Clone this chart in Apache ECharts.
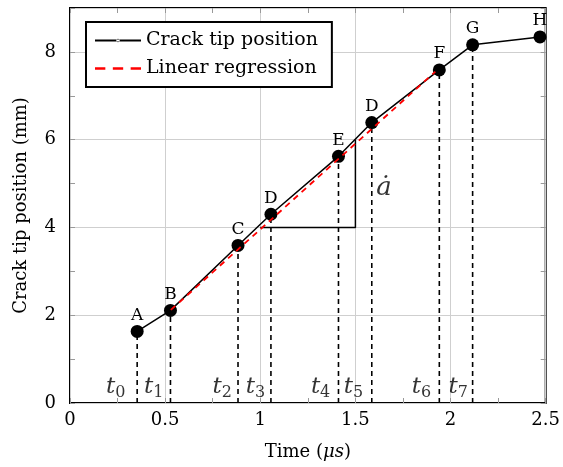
<!DOCTYPE html>
<html>
<head>
<meta charset="utf-8">
<script src="https://cdn.jsdelivr.net/npm/echarts@6/dist/echarts.min.js"></script>
<style>html,body{margin:0;padding:0;background:#fff}#c{width:563px;height:467px}</style>
</head>
<body>
<div id="c"></div>
<script>
// ---- data ----
const pointLabels = ['A','B','C','D','E','D','F','G','H'];
const timeUs = [0.353, 0.528, 0.883, 1.056, 1.411, 1.586, 1.941, 2.116, 2.470];
const crackMm = [1.63, 2.11, 3.59, 4.30, 5.62, 6.39, 7.59, 8.16, 8.34];
const regressionTime = [0.53, 1.92];
const regressionMm = [2.12, 7.55];
const slopeTime = [1.0, 1.5, 1.5];
const slopeMm = [4, 4, 6];
const tLabelNames = ['0','1','2','3','4','5','6','7'];
const tLabelTime = [0.24, 0.44, 0.80, 0.975, 1.317, 1.49, 1.847, 2.04];
const tLabelMm = [0.37, 0.37, 0.37, 0.37, 0.37, 0.37, 0.37, 0.37];
const rateLabelTime = [1.65];
const rateLabelMm = [4.9];
const xRange = [0, 2.5];
const yRange = [0, 9];
const xMajorStep = 0.5, xMinorStep = 0.25;
const yMajorStep = 2, yMinorStep = 1;

const FONT = 'DejaVu Serif';
const chart = echarts.init(document.getElementById('c'), null, {renderer: 'canvas'});

const series = [];
// vertical dashed drop lines
for (let i = 0; i < 8; i++) {
  series.push({
    type: 'line', silent: true, symbol: 'none', z: 2,
    data: [[timeUs[i], 0], [timeUs[i], crackMm[i]]],
    lineStyle: {color: '#000', width: 1.6, type: [5, 4]}
  });
}
// slope triangle
series.push({
  type: 'line', silent: true, symbol: 'none', z: 3,
  data: slopeTime.map((t, i) => [t, slopeMm[i]]),
  lineStyle: {color: '#000', width: 1.5}
});
// crack tip
series.push({
  name: 'Crack tip position', type: 'line', z: 5,
  data: timeUs.map((t, i) => [t, crackMm[i]]),
  symbol: 'circle', symbolSize: 13,
  itemStyle: {color: '#000'},
  lineStyle: {color: '#000', width: 1.5},
  label: {
    show: true, position: 'top', distance: 1,
    formatter: p => pointLabels[p.dataIndex],
    fontFamily: FONT, fontSize: 17, color: '#000'
  }
});
// regression
series.push({
  name: 'Linear regression', type: 'line', z: 6, symbol: 'none',
  data: regressionTime.map((t, i) => [t, regressionMm[i]]),
  itemStyle: {color: '#ff0000'},
  lineStyle: {color: '#ff0000', width: 1.8, type: [6, 5]}
});
// t labels
series.push({
  type: 'scatter', silent: true, symbolSize: 0, z: 7,
  data: tLabelTime.map((t, i) => [t, tLabelMm[i], tLabelNames[i]]),
  label: {
    show: true, position: 'inside',
    formatter: p => '{t|t}{s|' + p.data[2] + '}',
    rich: {
      t: {fontFamily: FONT, fontStyle: 'italic', fontSize: 23, color: '#000'},
      s: {fontFamily: FONT, fontSize: 16, color: '#000', padding: [12, 0, 0, 0]}
    }
  }
});
// rate label
series.push({
  type: 'scatter', silent: true, symbolSize: 0, z: 7,
  data: rateLabelTime.map((t, i) => [t, rateLabelMm[i]]),
  label: {show: true, position: 'inside', formatter: '\u0227',
    fontFamily: FONT, fontStyle: 'italic', fontSize: 26, color: '#000'}
});

const tickStyle = {show: true, inside: true, length: 5, lineStyle: {color: '#999', width: 1}};
const plainX = (pos) => ({
  type: 'value', min: xRange[0], max: xRange[1], interval: xMinorStep, position: pos,
  axisLine: {show: false, onZero: false}, axisTick: tickStyle, splitLine: {show: false}, axisLabel: {show: false}
});
const plainY = (pos) => ({
  type: 'value', min: yRange[0], max: yRange[1], interval: yMinorStep, position: pos,
  axisLine: {show: false, onZero: false}, axisTick: tickStyle, splitLine: {show: false}, axisLabel: {show: false}
});

chart.setOption({
  animation: false,
  backgroundColor: '#fff',
  grid: {left: 70, right: 16, top: 8, bottom: 64, show: true, borderColor: '#000', borderWidth: 2, backgroundColor: 'transparent'},
  legend: {
    left: 86, top: 22, orient: 'vertical',
    data: [
      {name: 'Crack tip position', icon: 'path://M0,4.2 L40,4.2 L40,5.8 L0,5.8 Z M18.5,5 A1.5,1.5 0 1,0 21.5,5 A1.5,1.5 0 1,0 18.5,5 Z'},
      {name: 'Linear regression', icon: 'path://M0,4 L9,4 L9,6 L0,6 Z M15.5,4 L24.5,4 L24.5,6 L15.5,6 Z M31,4 L40,4 L40,6 L31,6 Z'}
    ],
    itemWidth: 46, itemHeight: 10, itemGap: 9,
    padding: [9, 14, 9, 9],
    borderColor: '#000', borderWidth: 2, backgroundColor: '#fff',
    textStyle: {fontFamily: FONT, fontSize: 19, color: '#000'}
  },
  xAxis: [{
    type: 'value', min: xRange[0], max: xRange[1], interval: xMajorStep, position: 'bottom',
    name: 'Time ({i|μs})', nameLocation: 'middle', nameGap: 40,
    nameTextStyle: {fontFamily: FONT, fontSize: 18, color: '#000', rich: {i: {fontFamily: FONT, fontStyle: 'italic', fontSize: 18, color: '#000'}}},
    axisLine: {show: false, onZero: false}, axisTick: tickStyle,
    splitLine: {show: true, lineStyle: {color: '#cfcfcf', width: 1}},
    axisLabel: {fontFamily: FONT, fontSize: 18, color: '#000', margin: 8}
  }, plainX('bottom'), plainX('top')],
  yAxis: [{
    type: 'value', min: yRange[0], max: yRange[1], interval: yMajorStep, position: 'left',
    name: 'Crack tip position (mm)', nameLocation: 'middle', nameGap: 40,
    nameTextStyle: {fontFamily: FONT, fontSize: 18, color: '#000'},
    axisLine: {show: false, onZero: false}, axisTick: tickStyle,
    splitLine: {show: true, lineStyle: {color: '#cfcfcf', width: 1}},
    axisLabel: {fontFamily: FONT, fontSize: 18, color: '#000', margin: 14,
      formatter: v => (v > 8 ? '' : String(v))}
  }, plainY('left'), plainY('right')],
  series: series
});
</script>
</body>
</html>
